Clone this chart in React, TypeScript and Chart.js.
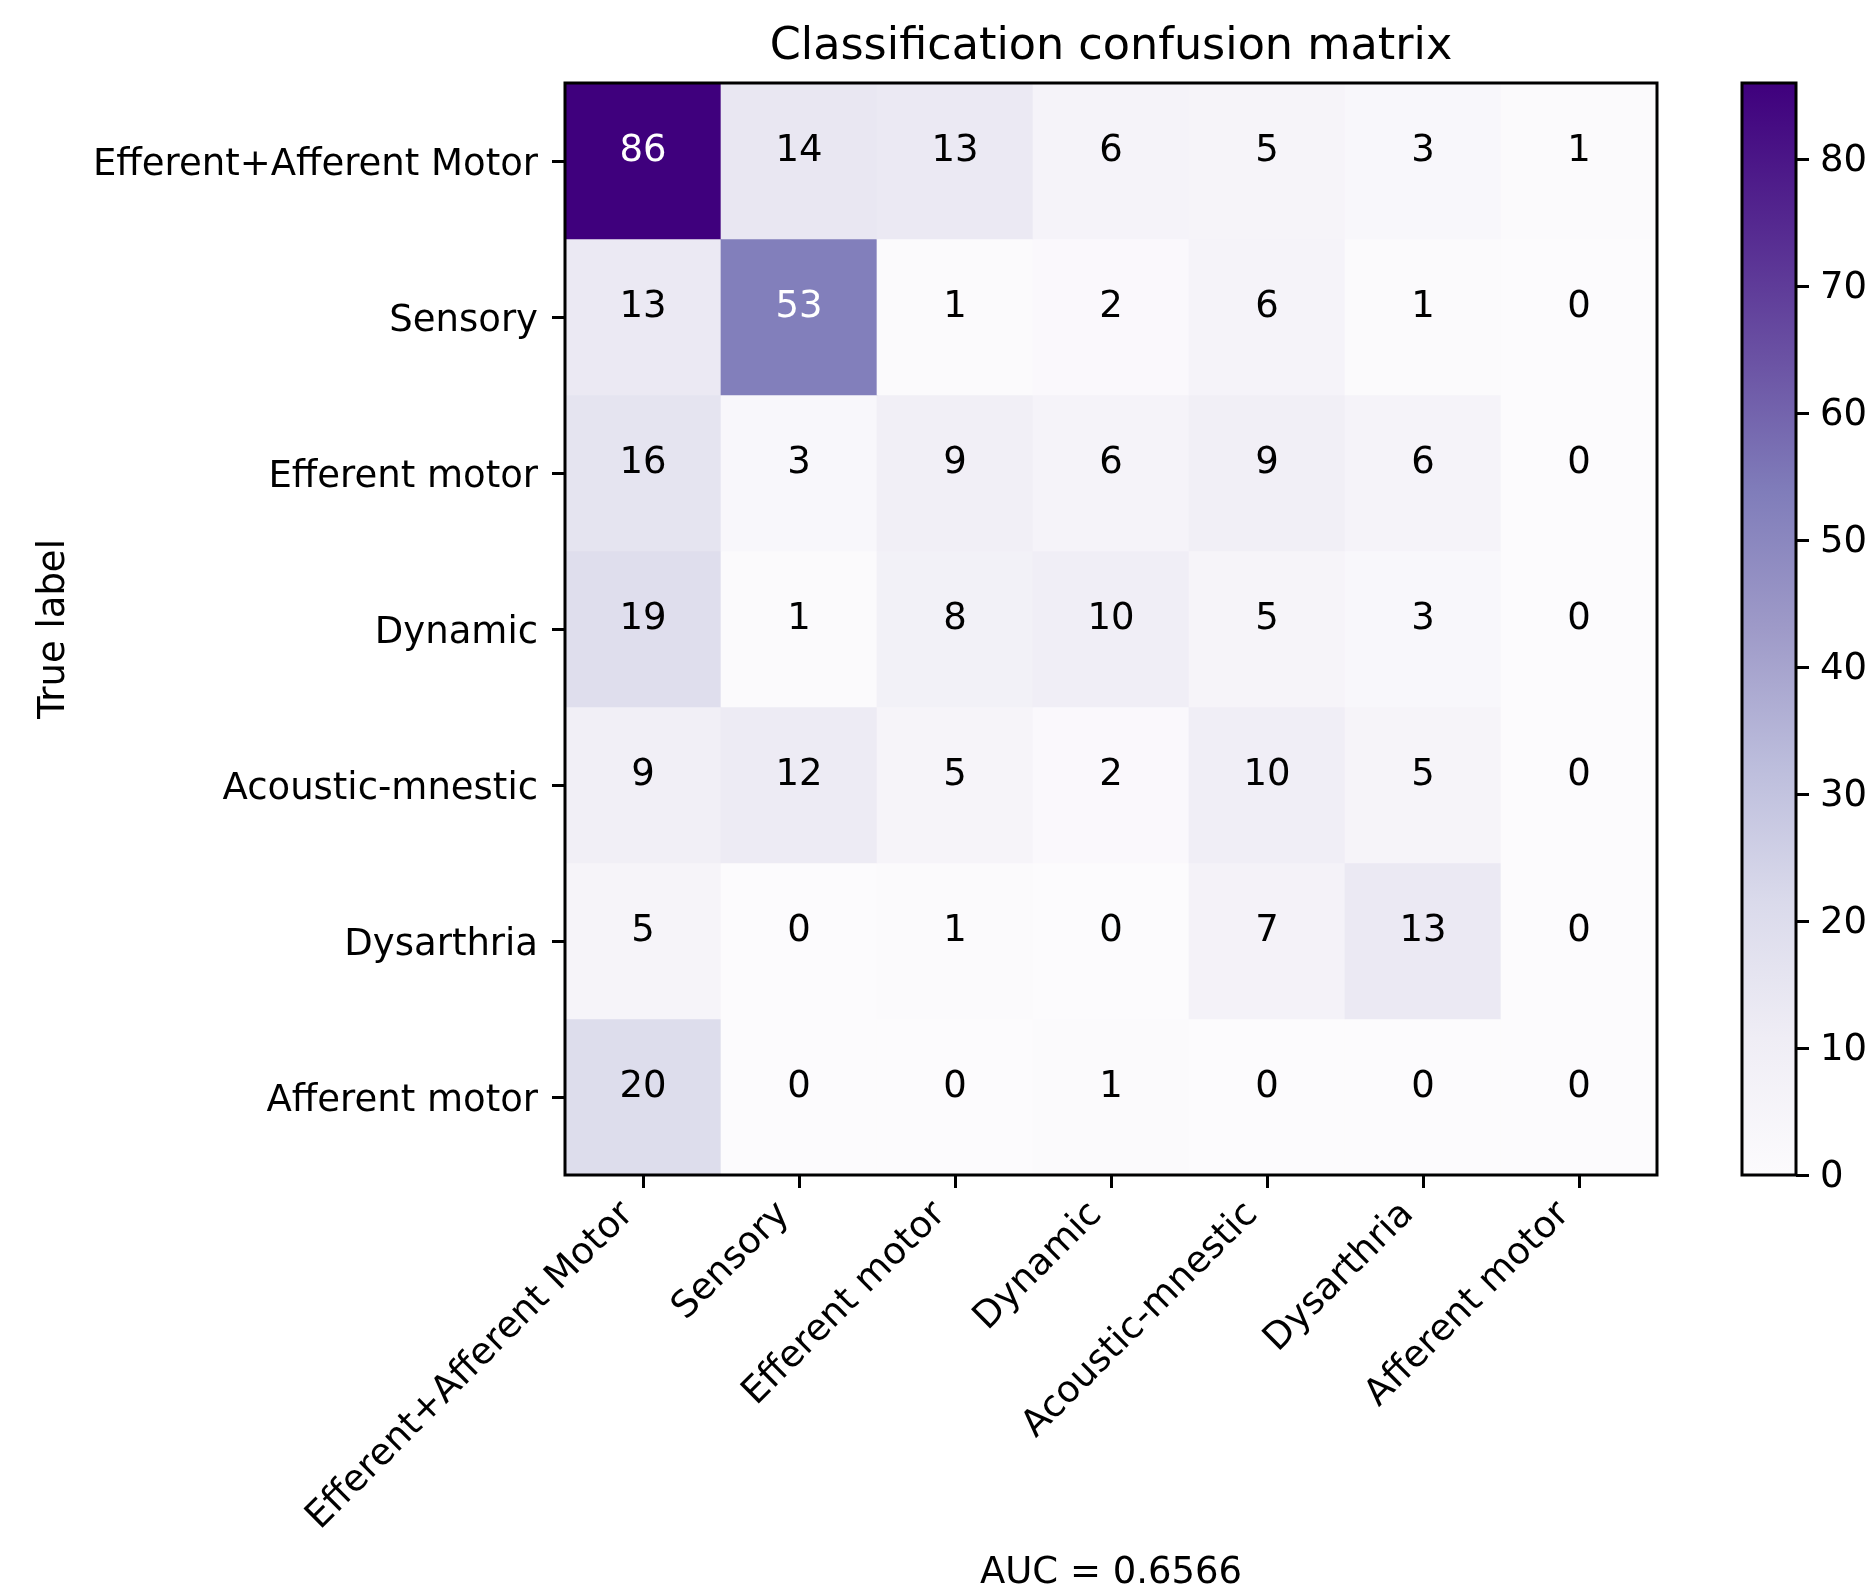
import React, { useEffect, useRef } from "react";
import { Chart, registerables } from "chart.js";

Chart.register(...registerables);

// Class names, shared by predicted (columns) and true (rows) axes
const CATEGORIES = [
  "Efferent+Afferent Motor",
  "Sensory",
  "Efferent motor",
  "Dynamic",
  "Acoustic-mnestic",
  "Dysarthria",
  "Afferent motor",
];

// One row of counts per true class, columns follow CATEGORIES
const ROW_EFFERENT_AFFERENT_MOTOR = [86, 14, 13, 6, 5, 3, 1];
const ROW_SENSORY = [13, 53, 1, 2, 6, 1, 0];
const ROW_EFFERENT_MOTOR = [16, 3, 9, 6, 9, 6, 0];
const ROW_DYNAMIC = [19, 1, 8, 10, 5, 3, 0];
const ROW_ACOUSTIC_MNESTIC = [9, 12, 5, 2, 10, 5, 0];
const ROW_DYSARTHRIA = [5, 0, 1, 0, 7, 13, 0];
const ROW_AFFERENT_MOTOR = [20, 0, 0, 1, 0, 0, 0];

const CONFUSION = [
  ROW_EFFERENT_AFFERENT_MOTOR,
  ROW_SENSORY,
  ROW_EFFERENT_MOTOR,
  ROW_DYNAMIC,
  ROW_ACOUSTIC_MNESTIC,
  ROW_DYSARTHRIA,
  ROW_AFFERENT_MOTOR,
];

const COLORBAR_TICKS = [0, 10, 20, 30, 40, 50, 60, 70, 80];

const TITLE = "Classification confusion matrix";
const Y_TITLE = "True label";
const X_TITLE = "AUC = 0.6566";

// Purples colour map stops (light to dark)
const PURPLES = [
  "#fcfbfd",
  "#efedf5",
  "#dadaeb",
  "#bcbddc",
  "#9e9ac8",
  "#807dba",
  "#6a51a3",
  "#54278f",
  "#3f007d",
];

const VMIN = 0;
const VMAX = Math.max(...CONFUSION.flat());
const TEXT_THRESHOLD = VMAX / 2;

// Page and layout geometry
const W = 1869;
const H = 1593;
const PLOT = { left: 565, right: 1657, top: 83, bottom: 1175 };
const CB = { left: 1742, right: 1796 };
const CB_CANVAS_LEFT = 1700;
const CB_CANVAS_W = W - CB_CANVAS_LEFT;

const FAMILY = '"DejaVu Sans", "Liberation Sans", sans-serif';
const FONT_PX = 37;
const TICK_FONT = { family: FAMILY, size: FONT_PX, weight: "normal" as const, lineHeight: 1.2 };
const LABEL_FONT = { family: FAMILY, size: FONT_PX, weight: "normal" as const, lineHeight: 1 };

function hexToRgb(h: string): number[] {
  const n = parseInt(h.slice(1), 16);
  return [(n >> 16) & 255, (n >> 8) & 255, n & 255];
}
const PURPLES_RGB = PURPLES.map(hexToRgb);

function purples(t: number): string {
  const tc = Math.min(1, Math.max(0, t));
  const pos = tc * (PURPLES_RGB.length - 1);
  const i = Math.min(PURPLES_RGB.length - 2, Math.floor(pos));
  const f = pos - i;
  const a = PURPLES_RGB[i];
  const b = PURPLES_RGB[i + 1];
  const c = a.map((v, k) => Math.round(v + (b[k] - v) * f));
  return `rgb(${c[0]}, ${c[1]}, ${c[2]})`;
}

const tickGrid = {
  display: true,
  drawOnChartArea: false,
  drawTicks: true,
  tickLength: 13,
  tickWidth: 3,
  tickColor: "#000",
  color: "#000",
};

// Black outline around the plotting area
const framePlugin = {
  id: "frame",
  afterDraw(chart: any) {
    const { ctx, chartArea } = chart;
    ctx.save();
    ctx.strokeStyle = "#000";
    ctx.lineWidth = 3;
    ctx.strokeRect(
      chartArea.left,
      chartArea.top,
      chartArea.right - chartArea.left,
      chartArea.bottom - chartArea.top
    );
    ctx.restore();
  },
};

// Count written in each cell, baseline on the cell centre
const cellLabelPlugin = {
  id: "cellLabels",
  afterDatasetsDraw(chart: any) {
    const { ctx } = chart;
    ctx.save();
    ctx.font = `${FONT_PX}px ${FAMILY}`;
    ctx.textAlign = "center";
    ctx.textBaseline = "alphabetic";
    CONFUSION.forEach((row, r) => {
      const meta = chart.getDatasetMeta(r);
      meta.data.forEach((bar: any, c: number) => {
        const v = row[c];
        const { x, y, base } = bar.getProps(["x", "y", "base"], true);
        ctx.fillStyle = v > TEXT_THRESHOLD ? "#ffffff" : "#000000";
        ctx.fillText(String(v), x, (y + base) / 2);
      });
    });
    ctx.restore();
  },
};

export default function App() {
  const mainRef = useRef<HTMLCanvasElement>(null);
  const cbRef = useRef<HTMLCanvasElement>(null);

  useEffect(() => {
    if (!mainRef.current || !cbRef.current) return;

    const main = new Chart(mainRef.current, {
      type: "bar",
      data: {
        labels: CATEGORIES,
        datasets: CONFUSION.map((row, r) => ({
          label: CATEGORIES[r],
          data: row.map(() => [r - 0.5, r + 0.5]),
          backgroundColor: row.map((v) => purples((v - VMIN) / (VMAX - VMIN))),
          borderWidth: 0,
          barPercentage: 1,
          categoryPercentage: 1,
          grouped: false,
        })),
      } as any,
      options: {
        responsive: false,
        animation: false,
        events: [],
        layout: { padding: { left: 0, right: W - PLOT.right, top: 0, bottom: 0 } },
        plugins: {
          legend: { display: false },
          tooltip: { enabled: false },
          title: {
            display: true,
            text: TITLE,
            fullSize: false,
            color: "#000",
            font: { family: FAMILY, size: 44.5, weight: "normal", lineHeight: 1.2 },
            padding: { top: 21, bottom: 8.6 },
          },
        },
        scales: {
          x: {
            type: "category",
            offset: true,
            grid: { ...tickGrid, offset: false },
            border: { display: false },
            ticks: {
              autoSkip: false,
              minRotation: 45,
              maxRotation: 45,
              labelOffset: -15,
              padding: 5,
              color: "#000",
              font: TICK_FONT,
            },
            title: {
              display: true,
              text: X_TITLE,
              color: "#000",
              font: LABEL_FONT,
              padding: { top: 0, bottom: 1 },
            },
            afterFit: (s: any) => {
              s.height = H - PLOT.bottom;
            },
          },
          y: {
            type: "linear",
            reverse: true,
            min: -0.5,
            max: CATEGORIES.length - 0.5,
            afterBuildTicks: (s: any) => {
              s.ticks = CATEGORIES.map((_, i) => ({ value: i }));
            },
            grid: tickGrid,
            border: { display: false },
            ticks: {
              autoSkip: false,
              padding: 14,
              labelOffset: 4.5,
              color: "#000",
              font: TICK_FONT,
              callback: (v: any) => CATEGORIES[Number(v)],
            },
            title: {
              display: true,
              text: Y_TITLE,
              color: "#000",
              font: LABEL_FONT,
              padding: { top: 36, bottom: 0 },
            },
            afterFit: (s: any) => {
              s.width = PLOT.left;
            },
          },
        },
      } as any,
      plugins: [cellLabelPlugin, framePlugin],
    });

    const colorbar = new Chart(cbRef.current, {
      type: "bar",
      data: {
        labels: [""],
        datasets: [
          {
            data: [[VMIN, VMAX]],
            backgroundColor: (c: any) => {
              const { chartArea, ctx } = c.chart;
              if (!chartArea) return PURPLES[0];
              const g = ctx.createLinearGradient(0, chartArea.bottom, 0, chartArea.top);
              PURPLES.forEach((col, i) => g.addColorStop(i / (PURPLES.length - 1), col));
              return g;
            },
            borderWidth: 0,
            barPercentage: 1,
            categoryPercentage: 1,
          },
        ],
      } as any,
      options: {
        responsive: false,
        animation: false,
        events: [],
        layout: {
          padding: {
            left: CB.left - CB_CANVAS_LEFT,
            right: 0,
            top: PLOT.top,
            bottom: H - PLOT.bottom,
          },
        },
        plugins: {
          legend: { display: false },
          tooltip: { enabled: false },
          title: { display: false },
        },
        scales: {
          x: { display: false },
          y: {
            type: "linear",
            position: "right",
            min: VMIN,
            max: VMAX,
            afterBuildTicks: (s: any) => {
              s.ticks = COLORBAR_TICKS.map((v) => ({ value: v }));
            },
            grid: tickGrid,
            border: { display: false },
            ticks: {
              autoSkip: false,
              padding: 11,
              labelOffset: 2,
              color: "#000",
              font: TICK_FONT,
            },
            afterFit: (s: any) => {
              s.width = CB_CANVAS_W - (CB.right - CB_CANVAS_LEFT);
            },
          },
        },
      } as any,
      plugins: [framePlugin],
    });

    return () => {
      main.destroy();
      colorbar.destroy();
    };
  }, []);

  return (
    <div
      style={{
        position: "absolute",
        left: 0,
        top: 0,
        width: W,
        height: H,
        background: "#ffffff",
        overflow: "hidden",
      }}
    >
      <canvas
        ref={mainRef}
        width={W}
        height={H}
        style={{ position: "absolute", left: 0, top: 0, width: W, height: H, display: "block" }}
      />
      <canvas
        ref={cbRef}
        width={CB_CANVAS_W}
        height={H}
        style={{
          position: "absolute",
          left: CB_CANVAS_LEFT,
          top: 0,
          width: CB_CANVAS_W,
          height: H,
          display: "block",
        }}
      />
    </div>
  );
}
